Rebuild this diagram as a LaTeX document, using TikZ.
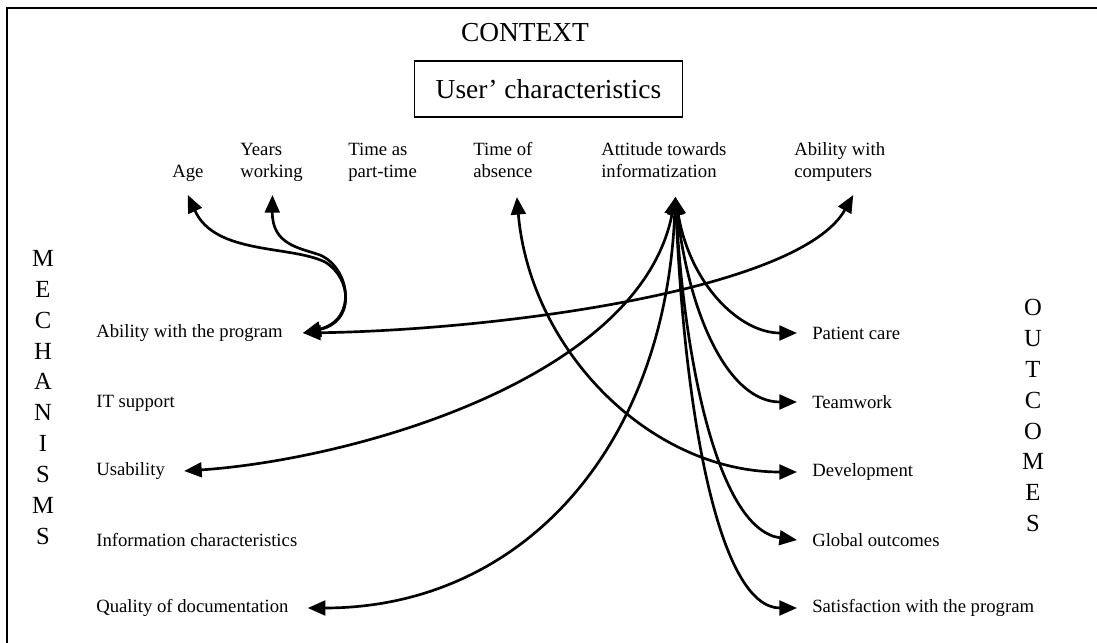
\documentclass[tikz,border=0pt]{standalone}
\usepackage{fontspec}
\setmainfont{Liberation Serif}
\usetikzlibrary{arrows.meta,
                calc,
                positioning}
\tikzstyle{heading} = [inner sep=0, font=\fontsize{19.5}{23}\selectfont]
\tikzstyle{charbox} = [rectangle, draw=black, line width=1.3pt, minimum width=190.6pt, minimum height=40pt, inner sep=0, font=\fontsize{19.5}{23}\selectfont]
\tikzstyle{factor} = [align=left, anchor=south west, inner sep=0, text depth=0pt, font=\fontsize{13.3}{15.6}\selectfont]
\tikzstyle{mech} = [anchor=west, inner sep=0, font=\fontsize{13.3}{15.6}\selectfont]
\tikzstyle{outc} = [anchor=west, inner sep=0, font=\fontsize{13.3}{15.6}\selectfont]
\tikzstyle{vword} = [align=center, inner sep=0, font=\fontsize{17.5}{22}\selectfont]
\tikzstyle{arrow} = [line width=1.9pt, {Triangle[length=12.5pt,width=10.5pt]}-{Triangle[length=12.5pt,width=10.5pt]}]

\begin{document}
\begin{tikzpicture}[x=0.025cm, y=-0.025cm]
\useasboundingbox (0,0) rectangle (1097,643);
\draw [line width=1.4pt] (7,643) -- (7,8) -- (1097,8);
% context
\node (ctx) [heading] at (525,33) {CONTEXT};
\node (user) [charbox] at (548.5,89) {User' characteristics};
% user characteristics
\node (age) [factor] at (172,178) {Age};
\node (years) [factor] at (240,178) {Years\\working};
\node (part) [factor] at (348,178) {Time as\\part-time};
\node (absence) [factor] at (473,178) {Time of\\absence};
\node (attit) [factor] at (601,178) {Attitude towards\\informatization};
\node (comp) [factor] at (794,178) {Ability with\\computers};
% mechanisms
\node (mechs) [vword] at (43,397.5) {M\\E\\C\\H\\A\\N\\I\\S\\M\\S};
\node (abil) [mech] at (96,333) {Ability with the program};
\node (itsup) [mech] at (96,403) {IT support};
\node (usab) [mech] at (96,471) {Usability};
\node (info) [mech] at (96,540) {Information characteristics};
\node (qual) [mech] at (96,608) {Quality of documentation};
% outcomes
\node (outs) [vword] at (1033,415.5) {O\\U\\T\\C\\O\\M\\E\\S};
\node (pcare) [outc] at (812,333) {Patient care};
\node (team) [outc] at (812,402) {Teamwork};
\node (devel) [outc] at (812,472) {Development};
\node (glob) [outc] at (812,540) {Global outcomes};
\node (satis) [outc] at (812,608) {Satisfaction with the program};

\draw [arrow] ($(age.south)+(0,17)$) .. controls (215,255) and (290,245) .. (325,262) .. controls (352,278) and (355,322) .. ($(abil.east)+(20,0)$);
\draw [arrow] ($(years.south)+(1,17)$) .. controls (272,245) and (300,248) .. (320,255) .. controls (350,268) and (358,320) .. ($(abil.east)+(20,0)$);
\draw [arrow] ($(abil.east)+(20,0)$) .. controls (500,330) and (800,290) .. ($(comp.south)+(13.5,17)$);
\draw [arrow] ($(absence.south)+(14,19)$) .. controls (530,350) and (650,472) .. ($(devel.west)+(-15,0)$);
\draw [arrow] ($(attit.south)+(11.5,19)$) .. controls (640,380) and (350,460) .. ($(usab.east)+(19,0)$);
\draw [arrow] ($(attit.south)+(11.5,19)$) .. controls (665,450) and (520,608) .. ($(qual.east)+(19,0)$);
\draw [arrow] ($(attit.south)+(11.5,19)$) .. controls (690,285) and (740,333) .. ($(pcare.west)+(-15,0)$);
\draw [arrow] ($(attit.south)+(11.5,19)$) .. controls (690,320) and (730,402) .. ($(team.west)+(-15,0)$);
\draw [arrow] ($(attit.south)+(11.5,19)$) .. controls (685,370) and (720,530) .. ($(glob.west)+(-15,0)$);
\draw [arrow] ($(attit.south)+(11.5,19)$) .. controls (685,420) and (720,608) .. ($(satis.west)+(-15,0)$);
\end{tikzpicture}
\end{document}
